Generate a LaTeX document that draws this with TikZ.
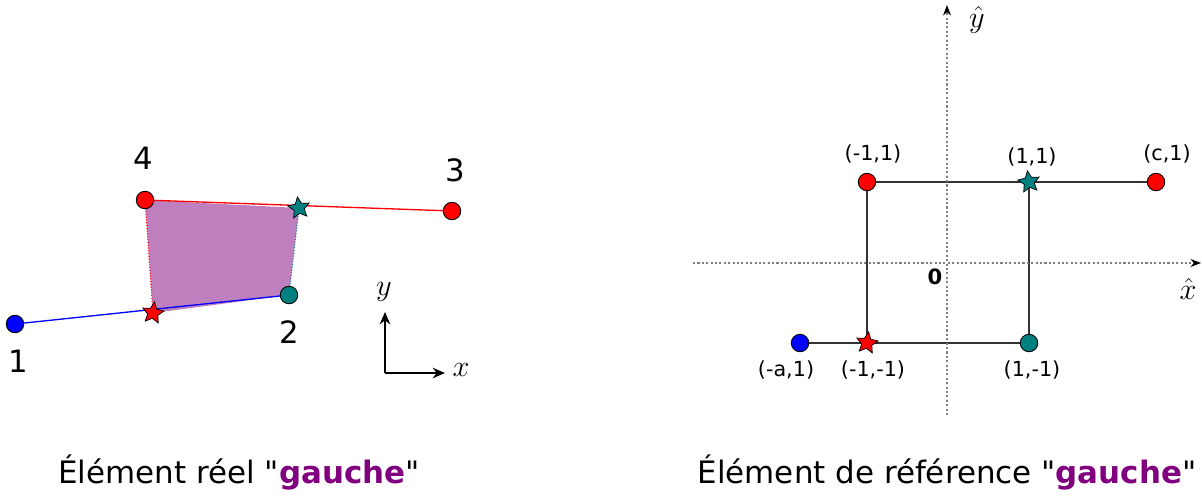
\documentclass[tikz,border=0pt]{standalone}
\usepackage{amsmath}
\usepackage{fontspec}
\setmainfont{DejaVu Sans}[Ligatures=TeXOff]
\usepackage{tikz}
\usetikzlibrary{arrows.meta, shapes.geometric, positioning, backgrounds}
\usepackage{xcolor}
\definecolor{tealpt}{RGB}{0, 128, 128}
\definecolor{mauve}{RGB}{191, 127, 191}
\definecolor{deeppurple}{RGB}{128, 0, 128}
\definecolor{edgegray}{RGB}{51, 51, 51}

\begin{document}
\begin{tikzpicture}[
  x=0.02cm, y=-0.02cm,
  vtx/.style={circle, draw=black, line width=0.5pt, inner sep=0pt, minimum size=0.35cm},
  starpt/.style={star, star points=5, star point ratio=2.1, draw=black, line width=0.4pt, inner sep=0pt, minimum size=0.45cm},
  numlbl/.style={font=\fontsize{17.5}{20}\selectfont},
  coordlbl/.style={font=\fontsize{11.8}{14}\selectfont},
  mathlbl/.style={font=\fontsize{17}{20}\selectfont},
  caption/.style={font=\fontsize{17.6}{20}\selectfont},
  arr/.style={-{Stealth[length=7pt, width=6pt]}, line width=1pt},
  axis/.style={dash pattern=on 1.2pt off 1.3pt, draw=gray, line width=0.6pt, -{Stealth[length=6pt, width=4.5pt, color=black]}}
]
  \useasboundingbox (0,0) rectangle (1202,498);

  % real element (left)
  \node[vtx, fill=blue] (p1) at (15,324) {};
  \node[vtx, fill=tealpt] (p2) at (289,295) {};
  \node[vtx, fill=red] (p3) at (452,211) {};
  \node[vtx, fill=red] (p4) at (145,200) {};
  \node[starpt, fill=red, rotate=-8] (sr) at (153,313) {};
  \node[starpt, fill=tealpt, rotate=8] (st) at (299,208) {};

  \begin{scope}[on background layer]
    \fill[mauve] (p4.center) -- (st.center) -- (p2.center) -- (sr.center) -- cycle;
    \draw[blue, line width=0.75pt] (p1.center) -- (p2.center);
    \draw[red, line width=0.75pt] (p4.center) -- (p3.center);
    \draw[red, densely dotted, line width=0.6pt] (sr.center) -- (p4.center);
    \draw[tealpt, densely dotted, line width=0.6pt] (st.center) -- (p2.center);
  \end{scope}

  \node[numlbl] (l1) at (18,361) {1};
  \node[numlbl] (l2) at (289,332) {2};
  \node[numlbl] (l3) at (455,170) {3};
  \node[numlbl] (l4) at (143,158) {4};

  \coordinate (o) at (385,373);
  \coordinate (oy) at (385,312);
  \coordinate (ox) at (445,373);
  \draw[arr] (o) -- (oy);
  \draw[arr] (o) -- (ox);
  \node[mathlbl] (ly) at (384,292) {$y$};
  \node[mathlbl] (lx) at (461,370) {$x$};

  \node[caption] (capl) at (239,472) {Élément réel "\textbf{\color{deeppurple}gauche}"};

  % reference element (right)
  \coordinate (ax0) at (693,263);
  \coordinate (ax1) at (1201,263);
  \coordinate (ay0) at (947,415);
  \coordinate (ay1) at (947,5);
  \draw[axis] (ax0) -- (ax1);
  \draw[axis] (ay0) -- (ay1);

  \node[vtx, fill=red] (q4) at (867,182) {};
  \node[vtx, fill=red] (q3) at (1156,182) {};
  \node[vtx, fill=blue] (q1) at (800,343) {};
  \node[vtx, fill=tealpt] (q2) at (1029,343) {};
  \node[starpt, fill=red, rotate=-8] (qsr) at (867,343) {};
  \node[starpt, fill=tealpt, rotate=8] (qst) at (1029,182) {};

  \begin{scope}[on background layer]
    \draw[edgegray, line width=0.6pt] (q4.center) -- (q3.center);
    \draw[edgegray, line width=0.6pt] (q4.center) -- (qsr.center);
    \draw[edgegray, line width=0.6pt] (qst.center) -- (q2.center);
    \draw[edgegray, line width=0.6pt] (q1.center) -- (q2.center);
  \end{scope}

  \node[coordlbl] (c4) at (873,154) {(-1,1)};
  \node[coordlbl] (cst) at (1032,157) {(1,1)};
  \node[coordlbl] (c3) at (1167,154) {(c,1)};
  \node[coordlbl] (c1) at (786,370) {(-a,1)};
  \node[coordlbl] (csr) at (873,370) {(-1,-1)};
  \node[coordlbl] (c2) at (1032,370) {(1,-1)};
  \node[coordlbl, font=\fontsize{12}{14}\selectfont\bfseries] (c0) at (935,277) {0};
  \node[mathlbl] (lyh) at (977,20) {$\hat{y}$};
  \node[mathlbl] (lxh) at (1188,289) {$\hat{x}$};

  \node[caption] (capr) at (947,472) {Élément de référence "\textbf{\color{deeppurple}gauche}"};
\end{tikzpicture}
\end{document}
